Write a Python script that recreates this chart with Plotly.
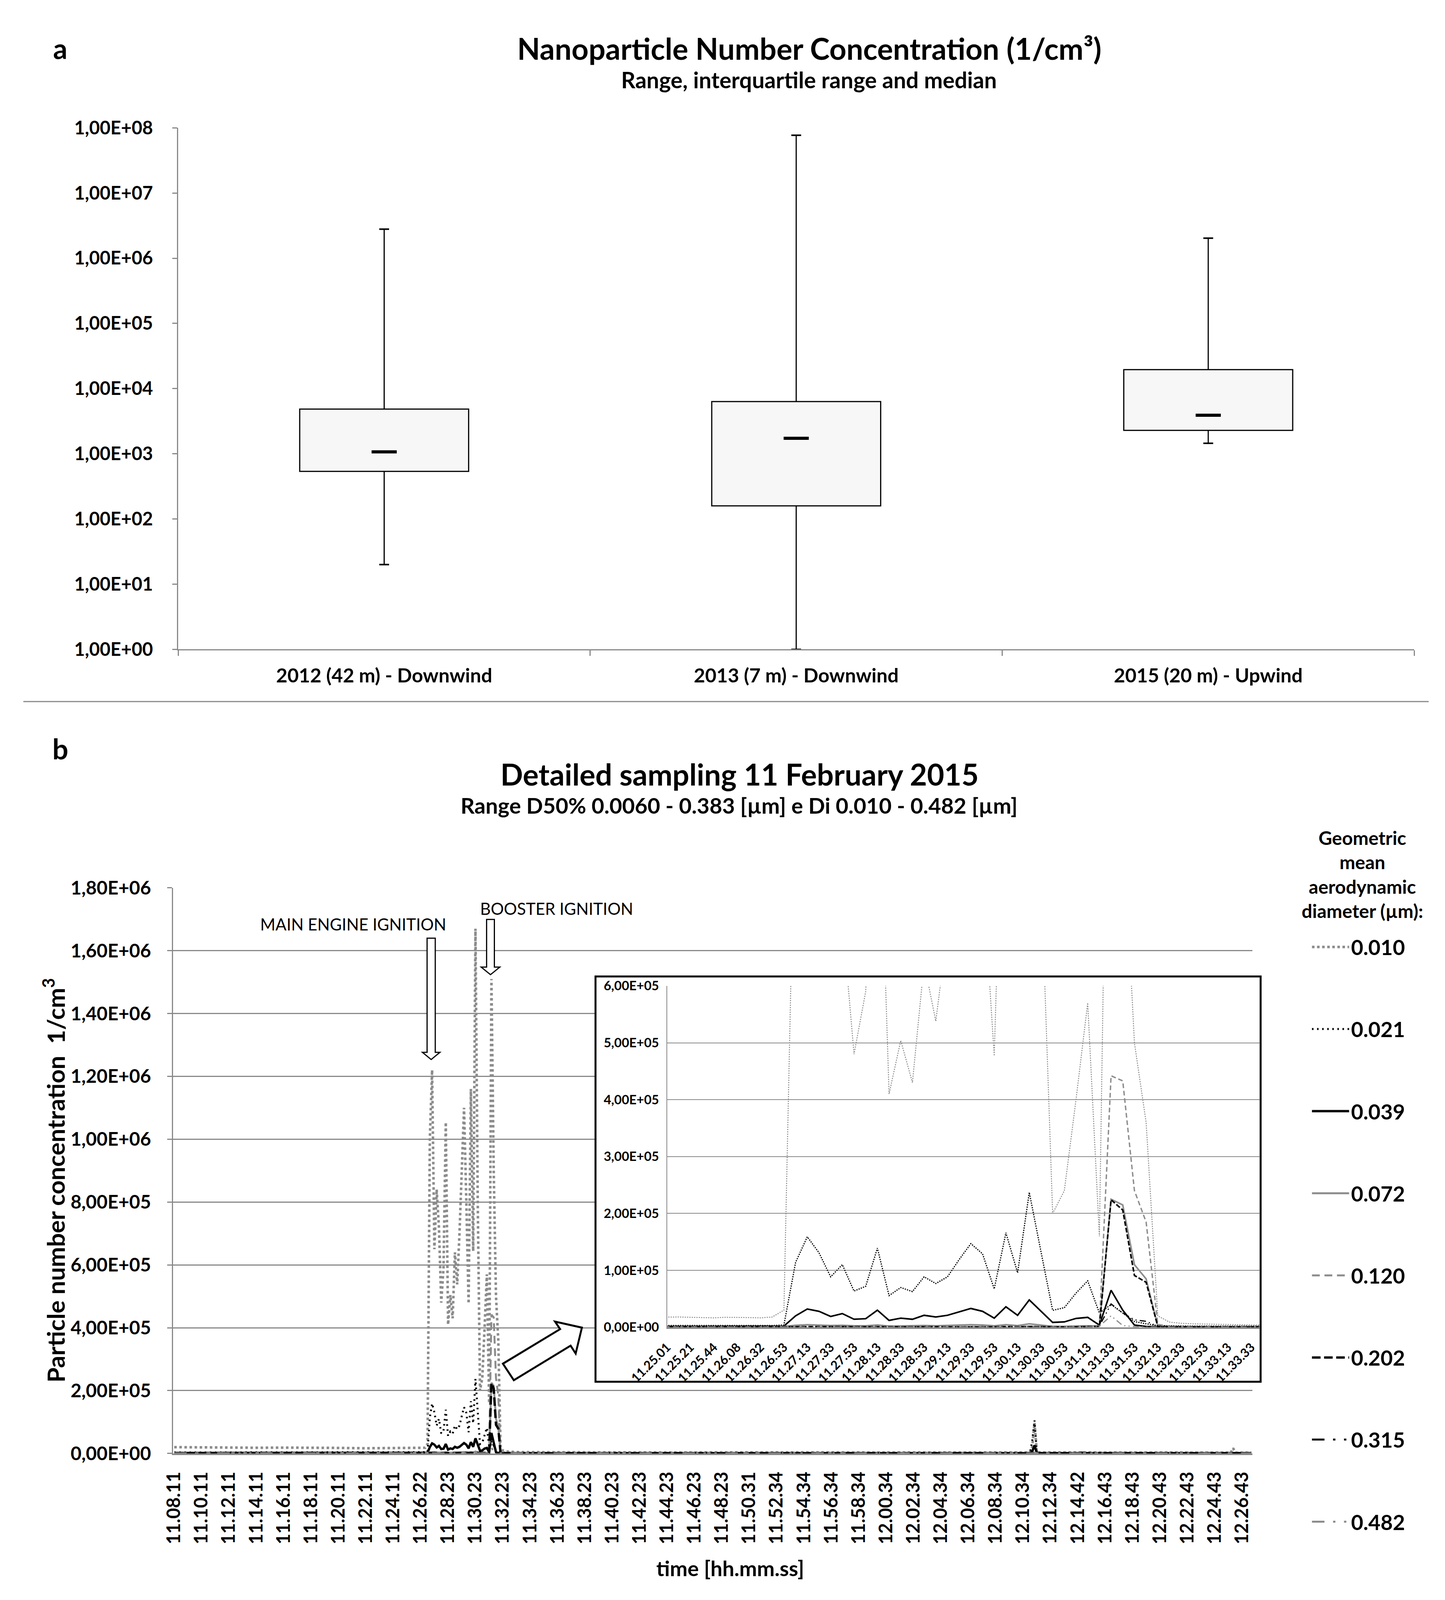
import plotly.graph_objects as go

# design reference size (all positions are expressed as fractions of it)
W, H = 3699, 4244
FONT = "Lato"
GRAY = "#8c8c8c"
AXIS_GRAY = "#898989"

# ---------------- Panel a : box summary ----------------
SITES = ["2012 (42 m) - Downwind", "2013 (7 m) - Downwind", "2015 (20 m) - Upwind"]
WHISKER_LOW = [20, 1, 1450]
QUARTILE_1 = [538, 159, 2290]
MEDIAN = [1070, 1730, 3900]
QUARTILE_3 = [4860, 6330, 19550]
WHISKER_HIGH = [2790000, 76900000, 2030000]
LOG_TICK_VALUES = [1, 10, 100, 1000, 10000, 100000, 1000000, 10000000, 100000000]
LOG_TICK_TEXT = ["1,00E+00", "1,00E+01", "1,00E+02", "1,00E+03", "1,00E+04",
                 "1,00E+05", "1,00E+06", "1,00E+07", "1,00E+08"]

# ---------------- Panel b : time series ----------------
TIME_LABELS = ["11.08.11", "11.10.11", "11.12.11", "11.14.11", "11.16.11", "11.18.11",
               "11.20.11", "11.22.11", "11.24.11", "11.26.22", "11.28.23", "11.30.23",
               "11.32.23", "11.34.23", "11.36.23", "11.38.23", "11.40.23", "11.42.23",
               "11.44.23", "11.46.23", "11.48.23", "11.50.31", "11.52.34", "11.54.34",
               "11.56.34", "11.58.34", "12.00.34", "12.02.34", "12.04.34", "12.06.34",
               "12.08.34", "12.10.34", "12.12.34", "12.14.42", "12.16.43", "12.18.43",
               "12.20.43", "12.22.43", "12.24.43", "12.26.43"]
SAMPLES_PER_LABEL = 12
INSET_LABELS = ["11.25.01", "11.25.21", "11.25.44", "11.26.08", "11.26.32", "11.26.53",
                "11.27.13", "11.27.33", "11.27.53", "11.28.13", "11.28.33", "11.28.53",
                "11.29.13", "11.29.33", "11.29.53", "11.30.13", "11.30.33", "11.30.53",
                "11.31.13", "11.31.33", "11.31.53", "11.32.13", "11.32.33", "11.32.53",
                "11.33.13", "11.33.33"]
INSET_FIRST_SAMPLE = 101
INSET_LAST_SAMPLE = 151

SAMPLE_PRE = [0, 12, 24, 36, 48, 60, 72, 84, 96, 100]
SAMPLE_WINDOW = list(range(101, 152))
SAMPLE_POST = [156, 168, 192, 216, 240, 264, 288, 312, 336, 360, 374, 375, 376, 377,
               378, 379, 380, 397, 398, 399, 420, 444, 462, 463, 464, 465, 472]
SAMPLE_INDEX = SAMPLE_PRE + SAMPLE_WINDOW + SAMPLE_POST

DIAMETERS = ["0.010", "0.021", "0.039", "0.072", "0.120", "0.202", "0.315", "0.482"]

D010 = [20000, 19000, 19500, 18000, 18500, 17000, 17500, 16500, 17000, 17500,
        18000, 18000, 17500, 17000, 16500, 17500, 17500, 17000, 16500, 18000,
        30000, 1000000, 1220000, 650000, 840000, 720000, 480000, 590000, 1054000, 410000,
        504000, 430000, 640000, 538000, 700000, 900000, 1100000, 800000, 477000, 1160000,
        644000, 1670000, 800000, 200000, 240000, 400000, 570000, 160000, 1510000, 900000,
        500000, 360000, 20000, 9000, 7000, 6000, 5500, 5000, 4500, 4500, 4000,
        4000, 3500, 3500, 3000, 3500, 3000, 3500, 3000, 3000, 3000, 3000, 3000, 20000, 97000,
        4000, 3000, 3000, 3000, 5000, 3000, 3000, 2500, 2500, 2500, 17000, 2500, 2500]
D021 = [3000, 3000, 3000, 2500, 2500, 2500, 2500, 2500, 2500, 2500,
        2500, 2500, 2500, 2500, 2500, 2500, 2500, 2500, 2500, 3000,
        4000, 114000, 159000, 131000, 88600, 110000, 63600, 72000, 139000, 55600,
        69800, 62700, 88600, 76800, 88600, 119000, 147000, 129000, 67400, 166000,
        95700, 237000, 133000, 29700, 34400, 60000, 81500, 25000, 40000, 25000,
        10000, 6000, 3000, 2500, 2000, 2000, 2000, 2000, 2000, 2000, 2000,
        2000, 2000, 2000, 2000, 2000, 2000, 2000, 2000, 2000, 2000, 2000, 2000, 40000, 105000,
        3000, 2000, 2000, 2000, 4000, 2000, 2000, 2000, 2000, 2000, 3000, 2000, 2000]
D039 = [1500, 1400, 1500, 1300, 1400, 1300, 1400, 1300, 1400, 1400,
        1500, 1500, 1400, 1400, 1400, 1400, 1400, 1400, 1500, 1500,
        2000, 20000, 32000, 28000, 19000, 24000, 14000, 15000, 30000, 12000,
        16000, 14000, 21000, 18000, 21000, 27000, 33000, 28000, 16000, 36000,
        21000, 48000, 28000, 8500, 9400, 15500, 17400, 3800, 65000, 30000,
        3800, 1400, 1200, 1000, 1000, 1000, 900, 900, 900, 800, 800,
        800, 800, 800, 800, 800, 800, 800, 800, 800, 800, 800, 800, 6000, 26000,
        1000, 800, 800, 800, 2500, 800, 800, 800, 800, 800, 800, 800, 800]
D072 = [800, 800, 700, 800, 700, 800, 700, 700, 800, 800,
        800, 800, 800, 800, 800, 800, 800, 800, 800, 800,
        1500, 3500, 4500, 4000, 3000, 3500, 2500, 2500, 4000, 2000,
        2500, 2500, 3000, 2500, 3000, 4000, 4500, 4000, 2500, 4500,
        3000, 6000, 4000, 1500, 1500, 2000, 2500, 2000, 225000, 215000,
        110000, 85000, 1500, 1000, 1000, 1000, 1000, 900, 900, 900, 900,
        600, 600, 600, 600, 600, 600, 600, 600, 600, 600, 600, 600, 1000, 3000,
        600, 600, 600, 600, 600, 600, 600, 600, 600, 600, 600, 600, 600]
D120 = [400, 400, 400, 400, 400, 400, 400, 400, 400, 400,
        400, 400, 400, 400, 400, 400, 400, 400, 400, 400,
        800, 1200, 1500, 1200, 1000, 1200, 900, 900, 1200, 800,
        900, 900, 1000, 900, 1000, 1200, 1300, 1200, 900, 1300,
        1000, 1800, 1200, 700, 700, 900, 1000, 3000, 442000, 433000,
        240000, 185000, 5000, 1500, 1000, 800, 700, 600, 600, 500, 500,
        400, 400, 400, 400, 400, 400, 400, 400, 400, 400, 400, 400, 600, 1500,
        400, 400, 400, 400, 400, 400, 400, 400, 400, 400, 400, 400, 400]
D202 = [300, 300, 300, 300, 300, 300, 300, 300, 300, 300,
        300, 300, 300, 300, 300, 300, 300, 300, 300, 300,
        600, 900, 1100, 1000, 800, 900, 700, 700, 900, 600,
        700, 700, 800, 700, 800, 900, 1000, 900, 700, 1000,
        800, 1300, 900, 500, 500, 700, 800, 1500, 224000, 206000,
        91000, 79000, 1500, 800, 600, 500, 500, 400, 400, 400, 400,
        300, 300, 300, 300, 300, 300, 300, 300, 300, 300, 300, 300, 600, 2000,
        300, 300, 300, 300, 300, 300, 300, 300, 300, 300, 300, 300, 300]
D315 = [200, 200, 200, 200, 200, 200, 200, 200, 200, 200,
        200, 200, 200, 200, 200, 200, 200, 200, 200, 200,
        400, 500, 600, 500, 400, 500, 400, 400, 500, 300,
        400, 400, 400, 400, 400, 500, 500, 500, 400, 500,
        400, 700, 500, 300, 300, 400, 400, 2000, 41000, 25000,
        13000, 10500, 1400, 500, 400, 300, 300, 300, 300, 300, 300,
        200, 200, 200, 200, 200, 200, 200, 200, 200, 200, 200, 200, 200, 200,
        200, 200, 200, 200, 200, 200, 200, 200, 200, 200, 200, 200, 200]
D482 = [150, 150, 150, 150, 150, 150, 150, 150, 150, 150,
        150, 150, 150, 150, 150, 150, 150, 150, 150, 150,
        300, 300, 400, 300, 300, 300, 300, 300, 300, 200,
        300, 300, 300, 300, 300, 300, 300, 300, 300, 300,
        300, 400, 300, 200, 200, 300, 300, 2000, 20000, 3000,
        1000, 500, 300, 200, 200, 200, 200, 200, 200, 200, 200,
        150, 150, 150, 150, 150, 150, 150, 150, 150, 150, 150, 150, 150, 150,
        150, 150, 150, 150, 150, 150, 150, 150, 150, 150, 1500, 150, 150]
SERIES = [D010, D021, D039, D072, D120, D202, D315, D482]

CONC_TICK_VALUES = [0, 200000, 400000, 600000, 800000, 1000000, 1200000, 1400000, 1600000, 1800000]
CONC_TICK_TEXT = ["0,00E+00", "2,00E+05", "4,00E+05", "6,00E+05", "8,00E+05",
                  "1,00E+06", "1,20E+06", "1,40E+06", "1,60E+06", "1,80E+06"]
INSET_TICK_VALUES = [0, 100000, 200000, 300000, 400000, 500000, 600000]
INSET_TICK_TEXT = ["0,00E+00", "1,00E+05", "2,00E+05", "3,00E+05", "4,00E+05", "5,00E+05", "6,00E+05"]

# styles: (color, main width, main dash, inset width, inset dash)
STYLES = [
    (GRAY, 6.5, "dot", 2.5, "3px,3px"),
    ("black", 5, "4px,9px", 3, "dot"),
    ("black", 6, "solid", 4, "solid"),
    (GRAY, 5, "solid", 4, "solid"),
    (GRAY, 5, "20px,12px", 3.5, "12px,7px"),
    ("black", 6, "22px,9px", 4, "12px,5px"),
    ("black", 5, "32px,22px,6px,22px,6px,22px", 3, "16px,8px,3px,8px,3px,8px"),
    (GRAY, 5, "32px,22px,6px,22px,6px,22px", 3, "16px,8px,3px,8px,3px,8px"),
]


def fx(p):
    return p / W


def fy(p):
    return 1 - p / H


def bold(size, color="black"):
    return dict(family=FONT, size=size, color=color, weight="bold")


fig = go.Figure()

# ---- panel a ----
fig.add_trace(go.Bar(
    x=SITES, y=[q3 - q1 for q1, q3 in zip(QUARTILE_1, QUARTILE_3)], base=QUARTILE_1,
    width=0.41, marker=dict(color="#f7f7f7", line=dict(color="black", width=3)),
    xaxis="x", yaxis="y", showlegend=False, hoverinfo="skip"))
wx, wy = [], []
for s, lo, q1, q3, hi in zip(SITES, WHISKER_LOW, QUARTILE_1, QUARTILE_3, WHISKER_HIGH):
    wx += [s, s, None, s, s, None]
    wy += [q3, hi, None, lo, q1, None]
fig.add_trace(go.Scatter(x=wx, y=wy, mode="lines", line=dict(color="black", width=3),
                         xaxis="x", yaxis="y", showlegend=False, hoverinfo="skip"))
fig.add_trace(go.Scatter(x=SITES + SITES, y=WHISKER_HIGH + WHISKER_LOW, mode="markers",
                         marker=dict(symbol="line-ew", size=18, line=dict(color="black", width=4)),
                         xaxis="x", yaxis="y", showlegend=False, hoverinfo="skip"))
fig.add_trace(go.Scatter(x=SITES, y=MEDIAN, mode="markers",
                         marker=dict(symbol="line-ew", size=46, line=dict(color="black", width=8)),
                         xaxis="x", yaxis="y", showlegend=False, hoverinfo="skip"))

# ---- panel b main ----
for name, vals, (col, w, dash, iw, idash) in zip(DIAMETERS, SERIES, STYLES):
    fig.add_trace(go.Scatter(x=SAMPLE_INDEX, y=vals, mode="lines", name=name,
                             legendgroup=name, line=dict(color=col, width=w, dash=dash),
                             xaxis="x2", yaxis="y2", hoverinfo="skip"))

# ---- white background behind the inset ----
fig.add_trace(go.Scatter(x=[0.5], y=[0.5], mode="markers", marker=dict(opacity=0),
                         xaxis="x3", yaxis="y3", showlegend=False, hoverinfo="skip"))

# ---- inset ----
for name, vals, (col, w, dash, iw, idash) in zip(DIAMETERS, SERIES, STYLES):
    fig.add_trace(go.Scatter(x=SAMPLE_INDEX, y=vals, mode="lines", name=name,
                             line=dict(color=col, width=iw, dash=idash),
                             xaxis="x4", yaxis="y4", showlegend=False, hoverinfo="skip"))

axis_common = dict(showline=True, linecolor=AXIS_GRAY, zeroline=False)

fig.update_layout(
    autosize=True,
    margin=dict(l=0, r=0, t=0, b=0, pad=0, autoexpand=False),
    paper_bgcolor="white", plot_bgcolor="white",
    font=dict(family=FONT, color="black"),
    hovermode=False,
    xaxis=dict(domain=[fx(450), fx(3628)], anchor="y", type="category",
               linewidth=3, ticks="outside", tickson="boundaries", ticklen=14,
               tickcolor=AXIS_GRAY, tickwidth=3, showgrid=False,
               tickfont=bold(50), ticklabelstandoff=22, **axis_common),
    yaxis=dict(domain=[fy(1721), fy(332)], anchor="x", type="log", range=[0, 8],
               tickvals=LOG_TICK_VALUES, ticktext=LOG_TICK_TEXT, linewidth=3,
               ticks="outside", ticklen=12, tickcolor=AXIS_GRAY, tickwidth=3,
               showgrid=False, tickfont=bold(47), ticklabelstandoff=40, **axis_common),
    xaxis2=dict(domain=[fx(437), fx(3212)], anchor="y2",
                range=[-0.5, 472.5],
                tickvals=[i * SAMPLES_PER_LABEL for i in range(len(TIME_LABELS))],
                ticktext=TIME_LABELS, tickangle=-90, linewidth=4, layer="below traces",
                ticks="", showgrid=False, tickfont=bold(47), ticklabelstandoff=24,
                **axis_common),
    yaxis2=dict(domain=[fy(3862), fy(2356)], anchor="x2", range=[0, 1800000],
                tickvals=CONC_TICK_VALUES, ticktext=CONC_TICK_TEXT,
                showgrid=True, gridcolor=AXIS_GRAY, gridwidth=3, linewidth=3,
                ticks="outside", ticklen=12, tickcolor=AXIS_GRAY, tickwidth=3,
                tickfont=bold(48), ticklabelstandoff=32, **axis_common),
    xaxis3=dict(domain=[fx(1523), fx(3233)], anchor="y3", range=[0, 1], visible=False),
    yaxis3=dict(domain=[fy(3671), fy(2592)], anchor="x3", range=[0, 1], visible=False),
    xaxis4=dict(domain=[fx(1707), fx(3230)], anchor="y4",
                range=[INSET_FIRST_SAMPLE, INSET_LAST_SAMPLE + 0.7],
                tickvals=[INSET_FIRST_SAMPLE + 2 * i for i in range(len(INSET_LABELS))],
                ticktext=INSET_LABELS, tickangle=-45, linewidth=4, layer="below traces",
                ticks="", showgrid=False, tickfont=bold(32), ticklabelstandoff=16,
                **axis_common),
    yaxis4=dict(domain=[fy(3526), fy(2617)], anchor="x4", range=[0, 600000],
                tickvals=INSET_TICK_VALUES, ticktext=INSET_TICK_TEXT,
                showgrid=True, gridcolor=AXIS_GRAY, gridwidth=2, linewidth=2,
                ticks="", tickfont=bold(33), ticklabelstandoff=12, **axis_common),
    legend=dict(x=fx(3360), y=fy(2470), xanchor="left", yanchor="top",
                font=bold(54), itemwidth=95, tracegroupgap=137, traceorder="grouped",
                bgcolor="rgba(0,0,0,0)"),
)


def path(points):
    return "M " + " L ".join(f"{fx(x):.5f},{fy(y):.5f}" for x, y in points) + " Z"


shapes = [
    # separator between panels
    dict(type="line", xref="paper", yref="paper", x0=fx(52), x1=fx(3665), y0=fy(1860), y1=fy(1860),
         line=dict(color=AXIS_GRAY, width=3)),
    # inset frame
    dict(type="rect", xref="paper", yref="paper", x0=fx(1523), x1=fx(3233), y0=fy(3671), y1=fy(2592),
         line=dict(color="black", width=5), fillcolor="rgba(0,0,0,0)"),
    # main engine arrow
    dict(type="path", xref="paper", yref="paper",
         path=path([(1090, 2490), (1111, 2490), (1111, 2794), (1123, 2794), (1100.5, 2813),
                    (1078, 2794), (1090, 2794)]),
         line=dict(color="black", width=3), fillcolor="white"),
    # booster arrow
    dict(type="path", xref="paper", yref="paper",
         path=path([(1243, 2440), (1263, 2440), (1263, 2567), (1277, 2567), (1253, 2587),
                    (1229, 2567), (1243, 2567)]),
         line=dict(color="black", width=3), fillcolor="white"),
    # arrow pointing to the inset
    dict(type="path", xref="paper", yref="paper",
         path=path([(1285, 3623), (1432, 3531), (1419, 3511), (1488, 3527), (1472, 3596),
                    (1459, 3575), (1313, 3667)]),
         line=dict(color="black", width=5), fillcolor="white"),
]
fig.update_layout(shapes=shapes)

ann = [
    dict(text="a", x=fx(147), y=fy(120), font=bold(72)),
    dict(text="b", x=fx(147), y=fy(1985), font=bold(72)),
    dict(text="Nanoparticle Number Concentration (1/cm³)", x=fx(2073), y=fy(120), font=bold(76)),
    dict(text="Range, interquartile range and median", x=fx(2072), y=fy(204), font=bold(57)),
    dict(text="Detailed sampling 11 February 2015", x=fx(1893), y=fy(2053), font=bold(76)),
    dict(text="Range D50% 0.0060 - 0.383 [µm] e Di 0.010 - 0.482 [µm]", x=fx(1892), y=fy(2136),
         font=bold(56)),
    dict(text="MAIN ENGINE IGNITION", x=fx(900), y=fy(2453),
         font=dict(family=FONT, size=42, color="black")),
    dict(text="BOOSTER IGNITION", x=fx(1423), y=fy(2411),
         font=dict(family=FONT, size=42, color="black")),
    dict(text="Particle number concentration  1/cm<sup>3</sup>", x=fx(130), y=fy(3134),
         textangle=-90, font=bold(62)),
    dict(text="time [hh.mm.ss]", x=fx(1870), y=fy(4168), font=bold(54)),
    dict(text="Geometric<br>mean<br>aerodynamic<br>diameter (µm):", x=fx(3495), y=fy(2320),
         align="center", font=bold(48)),
]
for a in ann:
    a.update(xref="paper", yref="paper", xanchor="center", yanchor="middle", showarrow=False)
fig.update_layout(annotations=ann)

# the figure fills the browser window (minus the page's default 8px body margin)
fig.write_html("out.html", default_width="100%", default_height="calc(100vh - 16px)")
